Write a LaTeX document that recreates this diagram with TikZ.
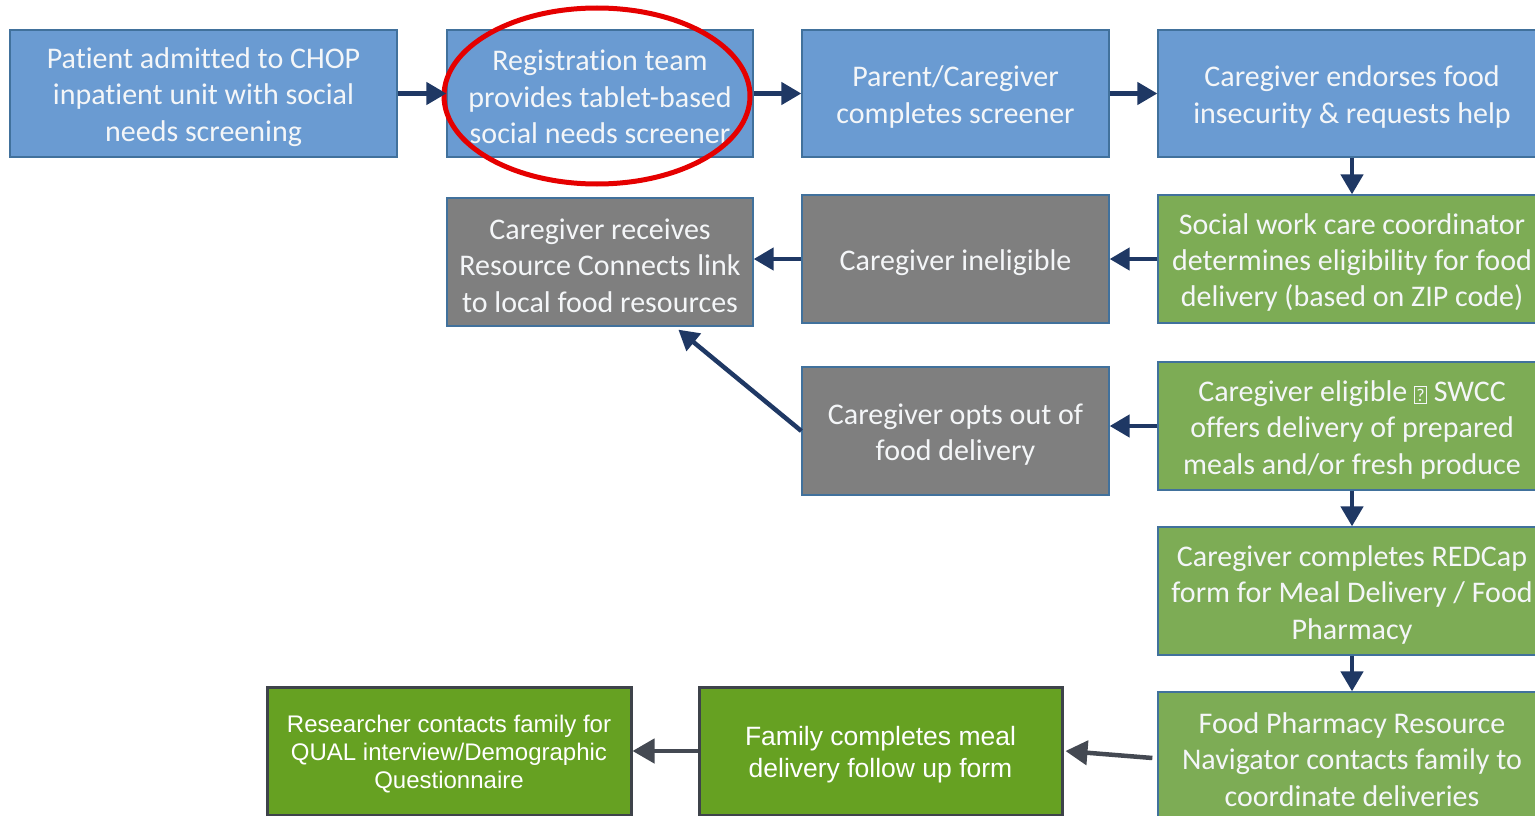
\documentclass[tikz,border=0pt]{standalone}
\usepackage{fontspec}
\setmainfont[Ligatures=NoCommon]{Carlito}
\newfontfamily\arialfont{Liberation Sans}
\usetikzlibrary{arrows.meta,calc,shapes.geometric}
\definecolor{bfill}{HTML}{6A9BD2}
\definecolor{bdraw}{HTML}{41719C}
\definecolor{gfill}{HTML}{7F7F7F}
\definecolor{lgfill}{HTML}{7DAC55}
\definecolor{dgfill}{HTML}{66A122}
\definecolor{dgdraw}{HTML}{3E434A}
\definecolor{navy}{HTML}{1F3864}
\definecolor{darr}{HTML}{444952}
\definecolor{txt}{HTML}{F4F6F8}
\newcommand{\qbox}{{\fboxsep=1.5pt\fboxrule=0.8pt\fbox{\fontsize{18}{18}\selectfont ?}}}
\begin{document}
\begin{tikzpicture}[x=1pt,y=-1pt,
  box/.style={rectangle, draw=bdraw, line width=1.3pt, inner sep=0pt},
  lbl/.style={text=txt, align=center, font=\fontsize{30}{36.5}\selectfont, yshift=-3.5pt, inner sep=0pt},
  bluebox/.style={box, fill=bfill, label={[lbl]center:{#1}}},
  graybox/.style={box, fill=gfill, label={[lbl]center:{#1}}},
  grnbox/.style={box, fill=lgfill, label={[lbl]center:{#1}}},
  brbox/.style={box, fill=dgfill, draw=dgdraw, line width=3pt},
  arr/.style={draw=navy, line width=4.5pt, -{Triangle[length=20pt,width=22pt]}},
  garr/.style={draw=darr, line width=4.5pt, -{Triangle[length=22pt,width=24pt]}}]
\useasboundingbox (0,0) rectangle (1535,816);
\clip (0,0) rectangle (1535,816);
\fill[white] (0,0) rectangle (1535,816);

\node[bluebox={Patient admitted to CHOP\\inpatient unit with social\\needs screening},
  minimum width=387pt, minimum height=127pt] (a) at (203.5,93.5) {};
\node[bluebox={Registration team\\provides tablet-based\\social needs screener},
  minimum width=306pt, minimum height=127pt] (b) at (600,93.5) {};
\node[bluebox={Parent/Caregiver\\completes screener},
  minimum width=307pt, minimum height=127pt] (c) at (955.5,93.5) {};
\node[bluebox={Caregiver endorses food\\insecurity \& requests help},
  minimum width=388pt, minimum height=127pt] (d) at (1352,93.5) {};

\node[graybox={Caregiver receives\\Resource Connects link\\to local food resources},
  minimum width=306pt, minimum height=128pt] (e) at (600,262) {};
\node[graybox={Caregiver ineligible},
  minimum width=307pt, minimum height=128pt] (f) at (955.5,259) {};
\node[grnbox={Social work care coordinator\\determines eligibility for food\\delivery (based on ZIP code)},
  minimum width=388pt, minimum height=128pt] (g) at (1352,259) {};

\node[graybox={Caregiver opts out of\\food delivery},
  minimum width=307pt, minimum height=128pt] (h) at (955.5,431) {};
\node[grnbox={Caregiver eligible \qbox{} SWCC\\offers delivery of prepared\\meals and/or fresh produce},
  minimum width=388pt, minimum height=128pt] (i) at (1352,426) {};

\node[grnbox={Caregiver completes REDCap\\form for Meal Delivery / Food\\Pharmacy},
  minimum width=388pt, minimum height=128pt] (j) at (1352,591) {};
\node[grnbox={Food Pharmacy Resource\\Navigator contacts family to\\coordinate deliveries},
  minimum width=388pt, minimum height=128pt] (k) at (1352,756) {};

\node[brbox, minimum width=363pt, minimum height=128pt,
  label={[lbl, text=white, font=\arialfont\fontsize{26.5}{32}\selectfont]center:{Family completes meal\\delivery follow up form}}] (l) at (880.5,751) {};
\node[brbox, minimum width=364pt, minimum height=128pt,
  label={[lbl, text=white, font=\arialfont\fontsize{24}{28}\selectfont]center:{Researcher contacts family for\\QUAL interview/Demographic\\Questionnaire}}] (m) at (449,751) {};

\node[ellipse, draw=red!90!black, line width=5pt, minimum width=306pt, minimum height=176pt, inner sep=0pt] (ov) at (597,96) {};

\draw[arr] (a.east) -- (b.west);
\draw[arr] (b.east) -- (c.west);
\draw[arr] (c.east) -- (d.west);
\draw[arr] (d.south) -- (g.north);
\draw[arr] (g.west) -- (f.east |- g.west);
\draw[arr] (f.west) -- (e.east |- f.west);
\draw[arr] (h.west) -- ($(e.south west)!0.755!(e.south east)+(0,3)$);
\draw[arr] (i.west) -- (h.east |- i.west);
\draw[arr] (i.south) -- (j.north);
\draw[arr] (j.south) -- (k.north);
\draw[garr] ($(k.west)+(-5,2)$) -- ($(l.east)+(2,0)$);
\draw[garr] (l.west) -- (m.east);
\end{tikzpicture}
\end{document}
